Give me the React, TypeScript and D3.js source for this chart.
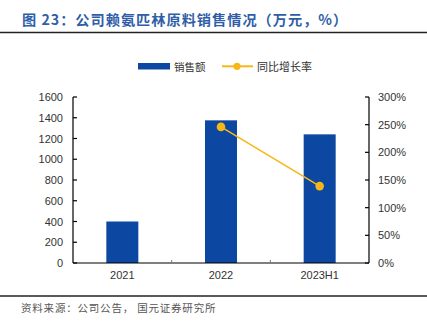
import React from "react";
import * as d3 from "d3";

const categories = ["2021", "2022", "2023H1"];
const salesValues = [400, 1375, 1240];
const growthValues = [null, 246, 139];
const leftTicks = [0, 200, 400, 600, 800, 1000, 1200, 1400, 1600];
const rightTicks = [0, 50, 100, 150, 200, 250, 300];

const W = 427;
const H = 330;
const left = 73;
const right = 369;
const top = 97;
const bottom = 263;

export default function App() {
  const x = d3.scaleBand<string>().domain(categories).range([left, right]).padding(0);
  const yL = d3.scaleLinear().domain([0, 1600]).range([bottom, top]);
  const yR = d3.scaleLinear().domain([0, 300]).range([bottom, top]);
  const bw = 32;
  const pts = categories
    .map((c, i) => ({ c, v: growthValues[i] }))
    .filter((d) => d.v !== null) as { c: string; v: number }[];
  const line = d3
    .line<{ c: string; v: number }>()
    .x((d) => (x(d.c) as number) + x.bandwidth() / 2)
    .y((d) => yR(d.v));
  const font = "'Liberation Sans', Arial, sans-serif";
  const cjk = "'Noto Sans CJK SC', sans-serif";
  const tickColor = "#333";
  const blue = "#0c47a1";
  const gold = "#f7b718";
  return (
    <svg width={W} height={H} style={{ position: "absolute", left: 0, top: 0 }}>
      <rect width={W} height={H} fill="#fff" />
      <text x={22} y={25} fontFamily={cjk} fontWeight="bold" fontSize={14.2} letterSpacing={1} fill="#2f5ea8">
        图 23：公司赖氨匹林原料销售情况（万元，%）
      </text>
      <line x1={0} x2={W} y1={32.5} y2={32.5} stroke="#222" strokeWidth={1.6} />
      {/* legend */}
      <rect x={138} y={63} width={32} height={6.5} fill={blue} />
      <text x={174} y={70.5} fontFamily={cjk} fontSize={10.5} fill="#333">销售额</text>
      <line x1={222} x2={253} y1={66.3} y2={66.3} stroke={gold} strokeWidth={2} />
      <circle cx={237} cy={66.3} r={3.6} fill={gold} />
      <text x={257} y={70.5} fontFamily={cjk} fontSize={11} fill="#333">同比增长率</text>
      {/* bars */}
      {categories.map((c, i) => (
        <rect
          key={c}
          x={(x(c) as number) + x.bandwidth() / 2 - bw / 2}
          y={yL(salesValues[i])}
          width={bw}
          height={bottom - yL(salesValues[i])}
          fill={blue}
        />
      ))}
      {/* left axis */}
      <line x1={left} x2={left} y1={top} y2={bottom} stroke="#000" strokeWidth={1.2} />
      {leftTicks.map((t) => (
        <g key={t}>
          <line x1={left} x2={left + 4} y1={yL(t)} y2={yL(t)} stroke="#000" strokeWidth={1.2} />
          <text x={63} y={yL(t) + 4} textAnchor="end" fontFamily={font} fontSize={11} fill={tickColor}>
            {t}
          </text>
        </g>
      ))}
      {/* right axis */}
      <line x1={right} x2={right} y1={top} y2={bottom} stroke="#000" strokeWidth={1.2} />
      {rightTicks.map((t) => (
        <g key={t}>
          <line x1={right - 4} x2={right} y1={yR(t)} y2={yR(t)} stroke="#000" strokeWidth={1.2} />
          <text x={378} y={yR(t) + 4} textAnchor="start" fontFamily={font} fontSize={11} fill={tickColor}>
            {t}%
          </text>
        </g>
      ))}
      {/* x axis */}
      <line x1={left} x2={right} y1={bottom} y2={bottom} stroke="#000" strokeWidth={1.2} />
      {categories.slice(1).map((c) => (
        <line key={c} x1={x(c) as number} x2={x(c) as number} y1={bottom} y2={bottom - 3} stroke="#777" strokeWidth={1} />
      ))}
      {categories.map((c) => (
        <text
          key={c}
          x={(x(c) as number) + x.bandwidth() / 2}
          y={279}
          textAnchor="middle"
          fontFamily={font}
          fontSize={11}
          fill={tickColor}
        >
          {c}
        </text>
      ))}
      {/* growth line */}
      <path d={line(pts) || ""} fill="none" stroke={gold} strokeWidth={1.6} />
      {pts.map((d) => (
        <circle key={d.c} cx={(x(d.c) as number) + x.bandwidth() / 2} cy={yR(d.v)} r={4.3} fill={gold} />
      ))}
      {/* footer */}
      <line x1={0} x2={W} y1={296} y2={296} stroke="#222" strokeWidth={1.6} />
      <text x={21} y={312} fontFamily={cjk} fontSize={10.5} letterSpacing={0.8} fill="#555">
        资料来源：公司公告，  国元证券研究所
      </text>
    </svg>
  );
}
